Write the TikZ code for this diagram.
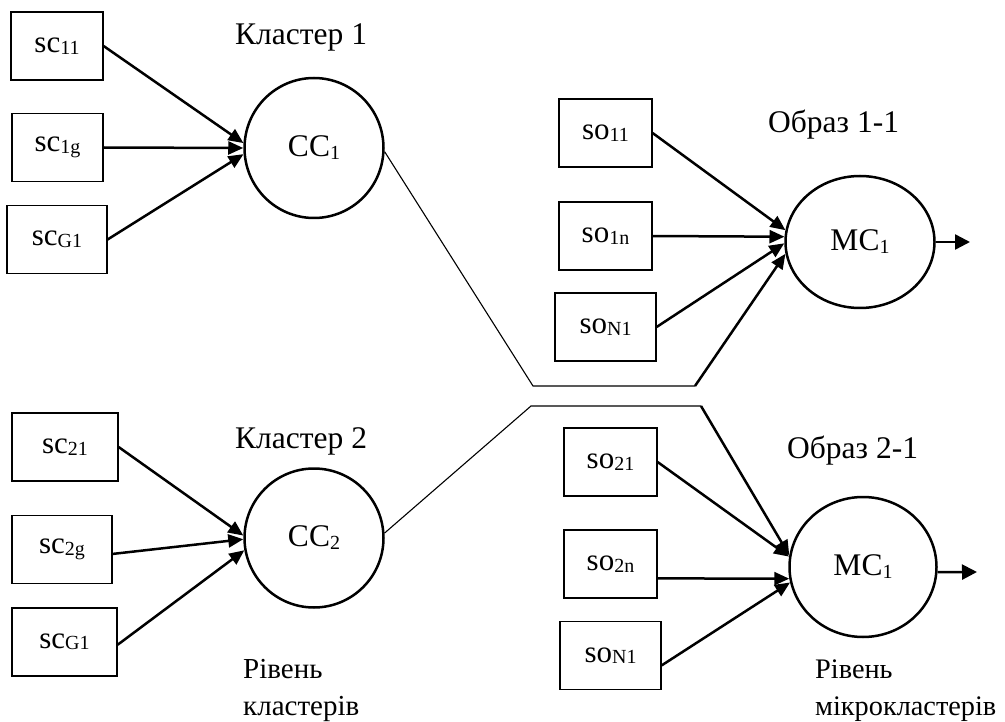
\documentclass[tikz,border=0pt]{standalone}
\usepackage{fontspec}
\setmainfont{Liberation Serif}
\usetikzlibrary{arrows.meta,shapes.geometric}

% lowered index set in a smaller size
\newcommand{\subidx}[2][-1.5pt]{\raisebox{#1}{\fontsize{20}{20}\selectfont #2}}

\begin{document}
\begin{tikzpicture}[x=1pt,y=-1pt,
  every node/.style={font=\fontsize{31}{37}\selectfont, inner sep=0pt},
  inbox/.style={draw, line width=1.2pt, minimum height=68pt, minimum width=#1},
  inbox/.default=93pt,
  hub/.style={draw, ellipse, line width=2.5pt, font=\fontsize{31.5}{37}\selectfont},
  arr/.style={line width=2.5pt, -{Triangle[length=15pt,width=13pt]}},
  outarr/.style={line width=2.5pt, -{Triangle[length=15pt,width=15pt]}},
  link/.style={line width=1.1pt},
  caption/.style={anchor=base west, align=left, font=\fontsize{31.5}{37}\selectfont},
  level/.style={anchor=base west, align=left, font=\fontsize{29}{37}\selectfont}
]
\useasboundingbox (0,0) rectangle (1005,722);

% cluster 1 inputs
\node[inbox=92pt]  (sc11) at (57,46)    {sc\subidx{11}};
\node[inbox=91pt]  (sc1g) at (57.5,147.5) {sc\subidx{1g}};
\node[inbox=100pt] (scG1) at (57,239.5) {sc\subidx{G1}};

% cluster 2 inputs
\node[inbox=106pt] (sc21)  at (65,447)    {sc\subidx{21}};
\node[inbox=100pt] (sc2g)  at (62,549.5)  {sc\subidx{2g}};
\node[inbox=105pt] (scG1b) at (64.5,642)  {sc\subidx{G1}};

% image 1-1 inputs
\node[inbox]       (so11) at (605.5,133) {so\subidx{11}};
\node[inbox]       (so1n) at (605.5,236) {so\subidx{1n}};
\node[inbox=101pt] (soN1) at (605.5,327) {so\subidx{N1}};

% image 2-1 inputs
\node[inbox]       (so21)  at (610.5,462)   {so\subidx{21}};
\node[inbox]       (so2n)  at (610.5,564)   {so\subidx{2n}};
\node[inbox=101pt] (soN1b) at (610.5,655.5) {so\subidx{N1}};

% cluster and micro-cluster cells
\node[hub, minimum width=139pt, minimum height=140pt] (cc1) at (314,148) {CC\subidx[-3pt]{1}};
\node[hub, minimum width=139pt, minimum height=139pt] (cc2) at (314,538) {CC\subidx[-3pt]{2}};
\node[hub, minimum width=149pt, minimum height=132pt] (mc1) at (860,242) {MC\subidx[-3pt]{1}};
\node[hub, minimum width=147pt, minimum height=140pt] (mc2) at (863,567) {MC\subidx[-3pt]{1}};

% captions (two-line ones are placed by the baseline of their last line)
\node[caption] (t1) at (235,45)  {Кластер 1};
\node[caption] (t2) at (235,448) {Кластер 2};
\node[caption] (t3) at (768,133) {Образ 1-1};
\node[caption] (t4) at (787,458) {Образ 2-1};
\node[level] (t5) at (243,715) {Рівень\\кластерів};
\node[level, font=\fontsize{28.3}{37}\selectfont] (t6) at (815,715) {Рівень\\мікрокластерів};

% inputs of the clusters
\draw[arr] (sc11.east) -- (cc1.176);
\draw[arr] (sc1g.east) -- (cc1.180);
\draw[arr] (scG1.east) -- (cc1.185);
\draw[arr] (sc21.east) -- (cc2.178);
\draw[arr] (sc2g.-5)   -- (cc2.181);
\draw[arr] (scG1b.-3)  -- (cc2.190);

% inputs of the micro-clusters
\draw[arr] (so11.east) -- (mc1.171);
\draw[arr] (so1n.east) -- (mc1.176);
\draw[arr] (soN1.east) -- (mc1.181);
\draw[arr] (so21.east) -- (mc2.172);
\draw[arr] (so2n.-17)  -- (mc2.189);
\draw[arr] (soN1b.-11) -- (mc2.192);

% crossing links between the levels
\coordinate (u1) at (533,386);
\coordinate (u2) at (695,386);
\coordinate (l1) at (531,406);
\coordinate (l2) at (701,406);
\draw[link] (cc1.-3) -- (u1) -- (u2);
\draw[arr]  (u2) -- (mc1.189);
\draw[link] (cc2.4) -- (l1) -- (l2);
\draw[arr]  (l2) -- (mc2.171);

% outputs
\coordinate (o1) at (970,242);
\coordinate (o2) at (977,572);
\draw[outarr] (mc1.east) -- (o1);
\draw[outarr] (mc2.-4)   -- (o2);
\end{tikzpicture}
\end{document}
